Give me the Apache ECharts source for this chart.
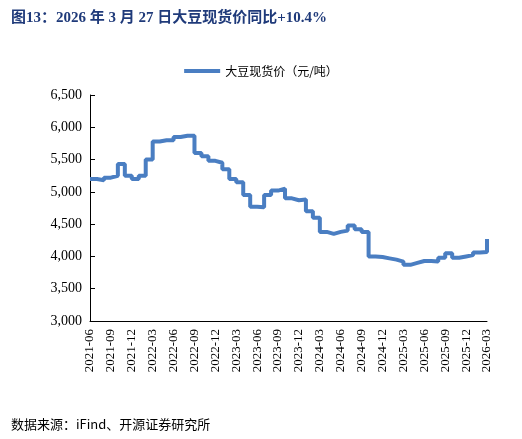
<!DOCTYPE html>
<html><head><meta charset="utf-8">
<script src="https://cdn.jsdelivr.net/npm/echarts@6/dist/echarts.min.js"></script>
<style>body{margin:0;background:#fff}#c{width:522px;height:439px}</style>
</head><body><div id="c"></div>
<script>
const categories = [];
for (let y = 2021; y <= 2026; y++) for (let m = 1; m <= 12; m++) {
  if ((y === 2021 && m < 6) || (y === 2026 && m > 3)) continue;
  categories.push(y + '-' + String(m).padStart(2, '0'));
}
const prices = [5200,5180,5220,5250,5430,5250,5200,5250,5500,5780,5800,5800,5850,5870,5870,5600,5550,5480,5450,5350,5200,5150,4950,4770,4760,4950,5020,5050,4900,4870,4880,4700,4600,4380,4350,4380,4400,4480,4420,4380,4000,3990,3970,3950,3920,3870,3900,3930,3930,3920,3980,4050,3980,4000,4020,4060,4070,4270];
const seriesName = '大豆现货价（元/吨）';
const chart = echarts.init(document.getElementById('c'));
chart.setOption({
  animation: false,
  title: [{text: '图13：2026 年 3 月 27 日大豆现货价同比+10.4%', left: 6, top: 6,
    textStyle: {color: '#1F3A7A', fontSize: 15, fontWeight: 'bold', fontFamily: 'Liberation Serif, Noto Sans CJK SC'}},
    {text: '数据来源：iFind、开源证券研究所', left: 6, top: 413,
    textStyle: {color: '#000', fontSize: 13, fontWeight: 'normal', fontFamily: 'Noto Sans CJK SC'}}],
  legend: {top: 60, left: 'center', data: [seriesName], itemWidth: 36, itemHeight: 4,
    icon: 'rect', textStyle: {fontSize: 12, fontFamily: 'Noto Sans CJK SC', color: '#000'}},
  grid: {left: 90, right: 35, top: 95, bottom: 118},
  xAxis: {type: 'category', data: categories, boundaryGap: false,
    axisLine: {lineStyle: {color: '#000'}}, axisTick: {show: false},
    axisLabel: {interval: 2, rotate: 90, color: '#000', fontSize: 13, fontFamily: 'Liberation Serif'}},
  yAxis: {type: 'value', min: 3000, max: 6500, interval: 500, splitLine: {show: false},
    axisLine: {show: true, lineStyle: {color: '#000'}}, axisTick: {show: true, inside: true},
    axisLabel: {color: '#000', fontSize: 14, fontFamily: 'Liberation Serif',
      formatter: v => v.toLocaleString('en-US')}},
  series: [{name: seriesName, type: 'line', step: 'end', data: prices, showSymbol: false,
    lineStyle: {width: 4, color: '#4A7EC2'}, itemStyle: {color: '#4A7EC2'}}]
});
</script></body></html>
